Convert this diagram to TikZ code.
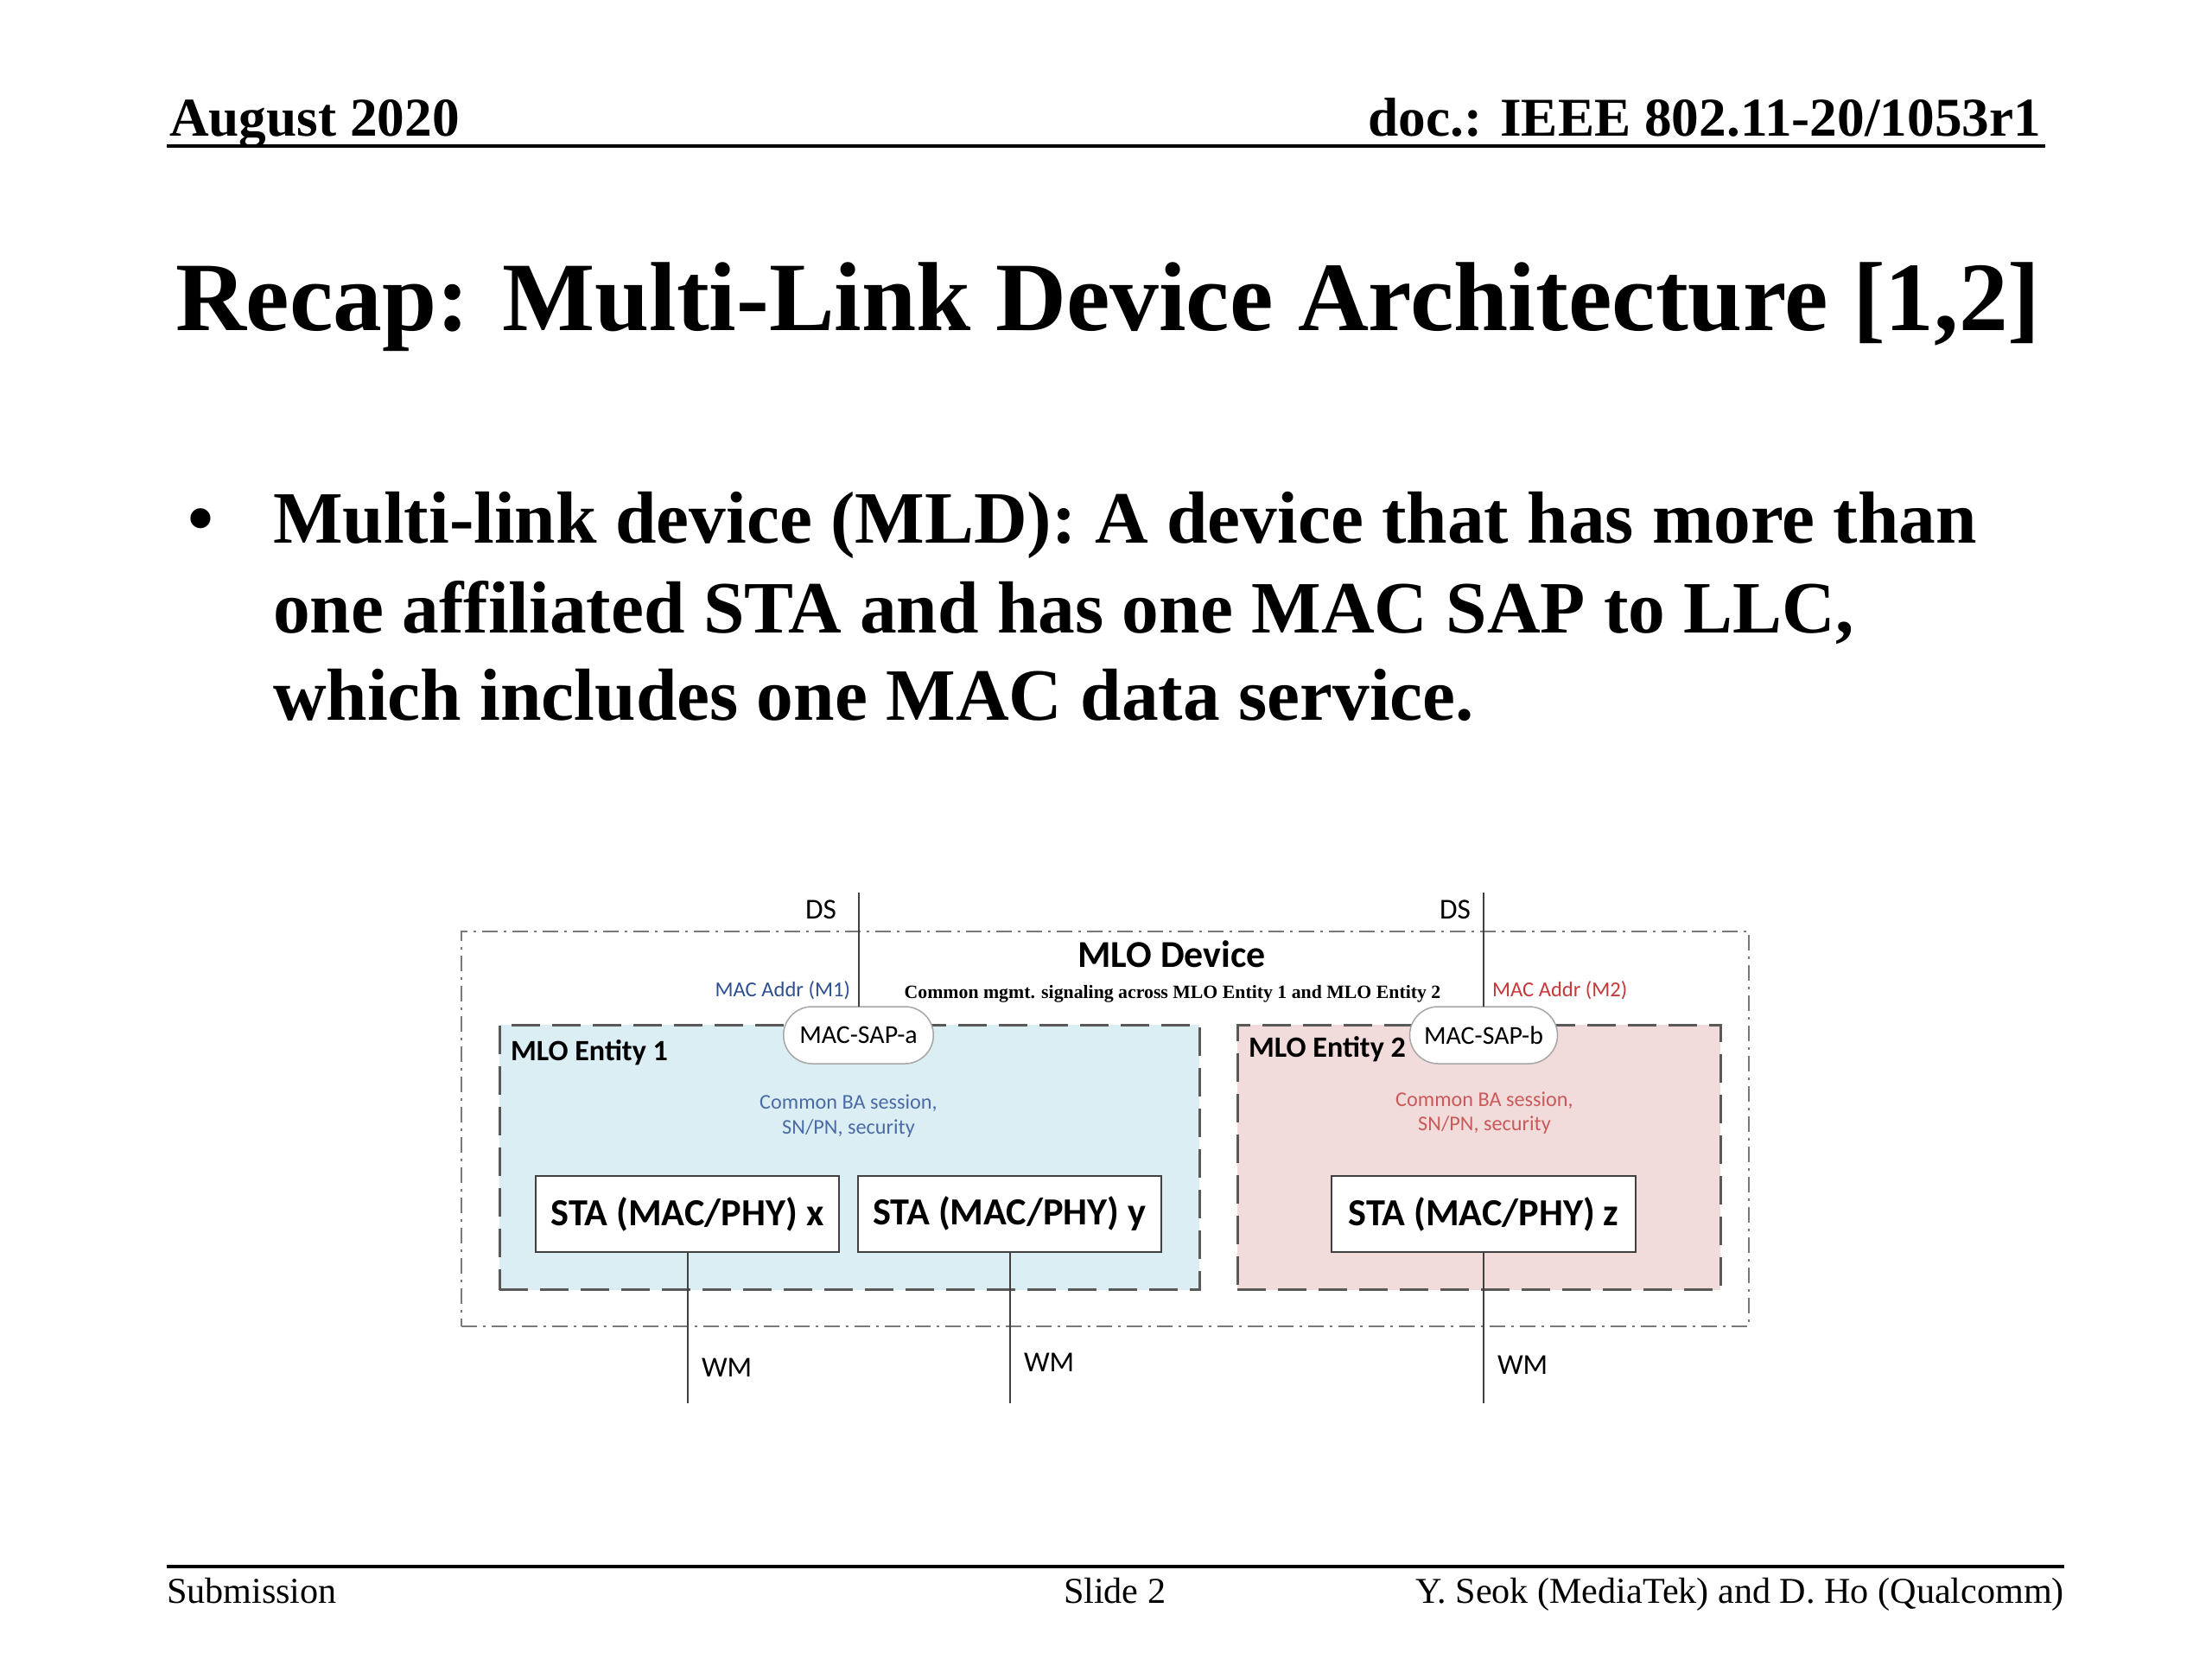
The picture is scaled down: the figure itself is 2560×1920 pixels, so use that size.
\documentclass[tikz,border=0pt]{standalone}
\usepackage{fontspec}
\setmainfont{Liberation Serif}
\newfontfamily\calfont{Carlito}
\definecolor{entblue}{HTML}{DAEEF3}
\definecolor{entpink}{HTML}{F2DCDB}
\definecolor{addrblue}{HTML}{2F5090}
\definecolor{bablue}{HTML}{4A6BA5}
\definecolor{addrred}{HTML}{C8383A}
\definecolor{bared}{HTML}{C95A5A}
\definecolor{linegray}{HTML}{404040}
\newcommand{\fsz}[1]{\fontsize{#1}{#1}\selectfont}
\tikzset{
  every node/.style={inner sep=0pt, outer sep=0pt},
  hdr/.style={font=\fsz{18pt}\bfseries},
  ftr/.style={font=\fsz{12pt}},
  bodytext/.style={font=\fsz{24.3pt}\bfseries, anchor=base west},
  rulestyle/.style={line width=0.4mm, black},
  outerbox/.style={draw=gray!95!black, line width=0.2mm, dash pattern=on 1.8mm off 0.7mm on 0.3mm off 0.7mm},
  entbox/.style={draw=black!65, line width=0.3mm, dash pattern=on 3.3mm off 1.4mm},
  pill/.style={draw=black!35, fill=white, line width=0.15mm, rounded corners=3.3mm, minimum height=6.6mm, font=\calfont\fsz{8.5pt}},
  stabox/.style={draw=linegray, fill=white, line width=0.25mm, minimum width=35.1mm, minimum height=8.8mm, font=\calfont\bfseries\fsz{12.6pt}},
  conn/.style={draw=linegray, line width=0.2mm},
  small/.style={font=\calfont\fsz{9.5pt}},
}
\begin{document}
\begin{tikzpicture}[x=0.1mm,y=-0.1mm]
\useasboundingbox (0,0) rectangle (2560,1920);
\fill[white] (0,0) rectangle (2560,1920);
% header
\node[hdr, anchor=base west] (date) at (196,157) {August 2020};
\node[hdr, anchor=base east] (doc) at (2362,157) {doc.: IEEE 802.11-20/1053r1};
\coordinate (hl) at (193,169);
\coordinate (hr) at (2367,169);
\draw[rulestyle] (hl) -- (hr);
% title
\node[anchor=base west, font=\fsz{32.3pt}\bfseries] (title) at (203,382) {Recap: Multi-Link Device Architecture [1,2]};
% bullet
\node[anchor=base, font=\fsz{24.3pt}\bfseries] (bul) at (232,628) {•};
\node[bodytext] (l1) at (316,628) {Multi-link device (MLD): A device that has more than};
\node[bodytext] (l2) at (316,732) {one affiliated STA and has one MAC SAP to LLC,};
\node[bodytext] (l3) at (316,833) {which includes one MAC data service.};
% diagram containers
\node[outerbox, minimum width=148.95mm, minimum height=45.75mm] (mlo) at (1278.75,1306.25) {};
\node[entbox, fill=entblue, minimum width=81mm, minimum height=30.65mm] (ent1) at (983,1339.25) {};
\node[entbox, fill=entpink, minimum width=55.9mm, minimum height=30.65mm] (ent2) at (1711.5,1339.25) {};
% SAPs
\node[pill, minimum width=17.35mm] (sapa) at (993.5,1198) {MAC-SAP-a};
\node[pill, minimum width=17.1mm] (sapb) at (1717,1198) {MAC-SAP-b};
\coordinate (dsa) at (993.5,1033);
\coordinate (dsb) at (1717,1033);
\draw[conn] (dsa) -- (sapa.north);
\draw[conn] (dsb) -- (sapb.north);
\node[small, anchor=base east] (dsla) at (968,1063) {DS};
\node[small, anchor=base east] (dslb) at (1702,1063) {DS};
% labels
\node[anchor=base, font=\calfont\bfseries\fsz{12.5pt}] (mlot) at (1356,1119) {MLO Device};
\node[anchor=base, font=\fsz{6.2pt}\bfseries] (mgmt) at (1357,1155) {Common mgmt. signaling across MLO Entity 1 and MLO Entity 2};
\node[anchor=base east, font=\calfont\fsz{7pt}, text=addrblue] (m1) at (984,1153) {MAC Addr (M1)};
\node[anchor=base west, font=\calfont\fsz{7pt}, text=addrred] (m2) at (1727,1153) {MAC Addr (M2)};
\node[anchor=base west, font=\calfont\bfseries\fsz{9.7pt}] (e1t) at (591,1227) {MLO Entity 1};
\node[anchor=base west, font=\calfont\bfseries\fsz{9.7pt}] (e2t) at (1445,1223) {MLO Entity 2};
\node[anchor=base, font=\calfont\fsz{6.9pt}, text=bablue] (ba1a) at (982,1283) {Common BA session,};
\node[anchor=base, font=\calfont\fsz{6.9pt}, text=bablue] (ba1b) at (982,1312) {SN/PN, security};
\node[anchor=base, font=\calfont\fsz{6.9pt}, text=bared] (ba2a) at (1718,1280) {Common BA session,};
\node[anchor=base, font=\calfont\fsz{6.9pt}, text=bared] (ba2b) at (1718,1308) {SN/PN, security};
% STAs
\node[stabox] (stax) at (795.5,1405) {STA (MAC/PHY) x};
\node[stabox] (stay) at (1168.5,1405) {STA (MAC/PHY) y};
\node[stabox, minimum width=35.2mm] (staz) at (1717,1405) {STA (MAC/PHY) z};
\coordinate (wmx) at (795.5,1624);
\coordinate (wmy) at (1168.5,1624);
\coordinate (wmz) at (1717,1624);
\draw[conn] (stax.south) -- (wmx);
\draw[conn] (stay.south) -- (wmy);
\draw[conn] (staz.south) -- (wmz);
\node[small, anchor=base west] (wmxl) at (812,1593) {WM};
\node[small, anchor=base west] (wmyl) at (1185,1587) {WM};
\node[small, anchor=base west] (wmzl) at (1733,1590) {WM};
% footer
\coordinate (fl) at (193,1813);
\coordinate (fr) at (2389,1813);
\draw[rulestyle] (fl) -- (fr);
\node[ftr, anchor=base west] (sub) at (193,1855) {Submission};
\node[ftr, anchor=base west] (slide) at (1231,1855) {Slide 2};
\node[ftr, anchor=base east] (auth) at (2389,1855) {Y. Seok (MediaTek) and D. Ho (Qualcomm)};
\end{tikzpicture}
\end{document}
